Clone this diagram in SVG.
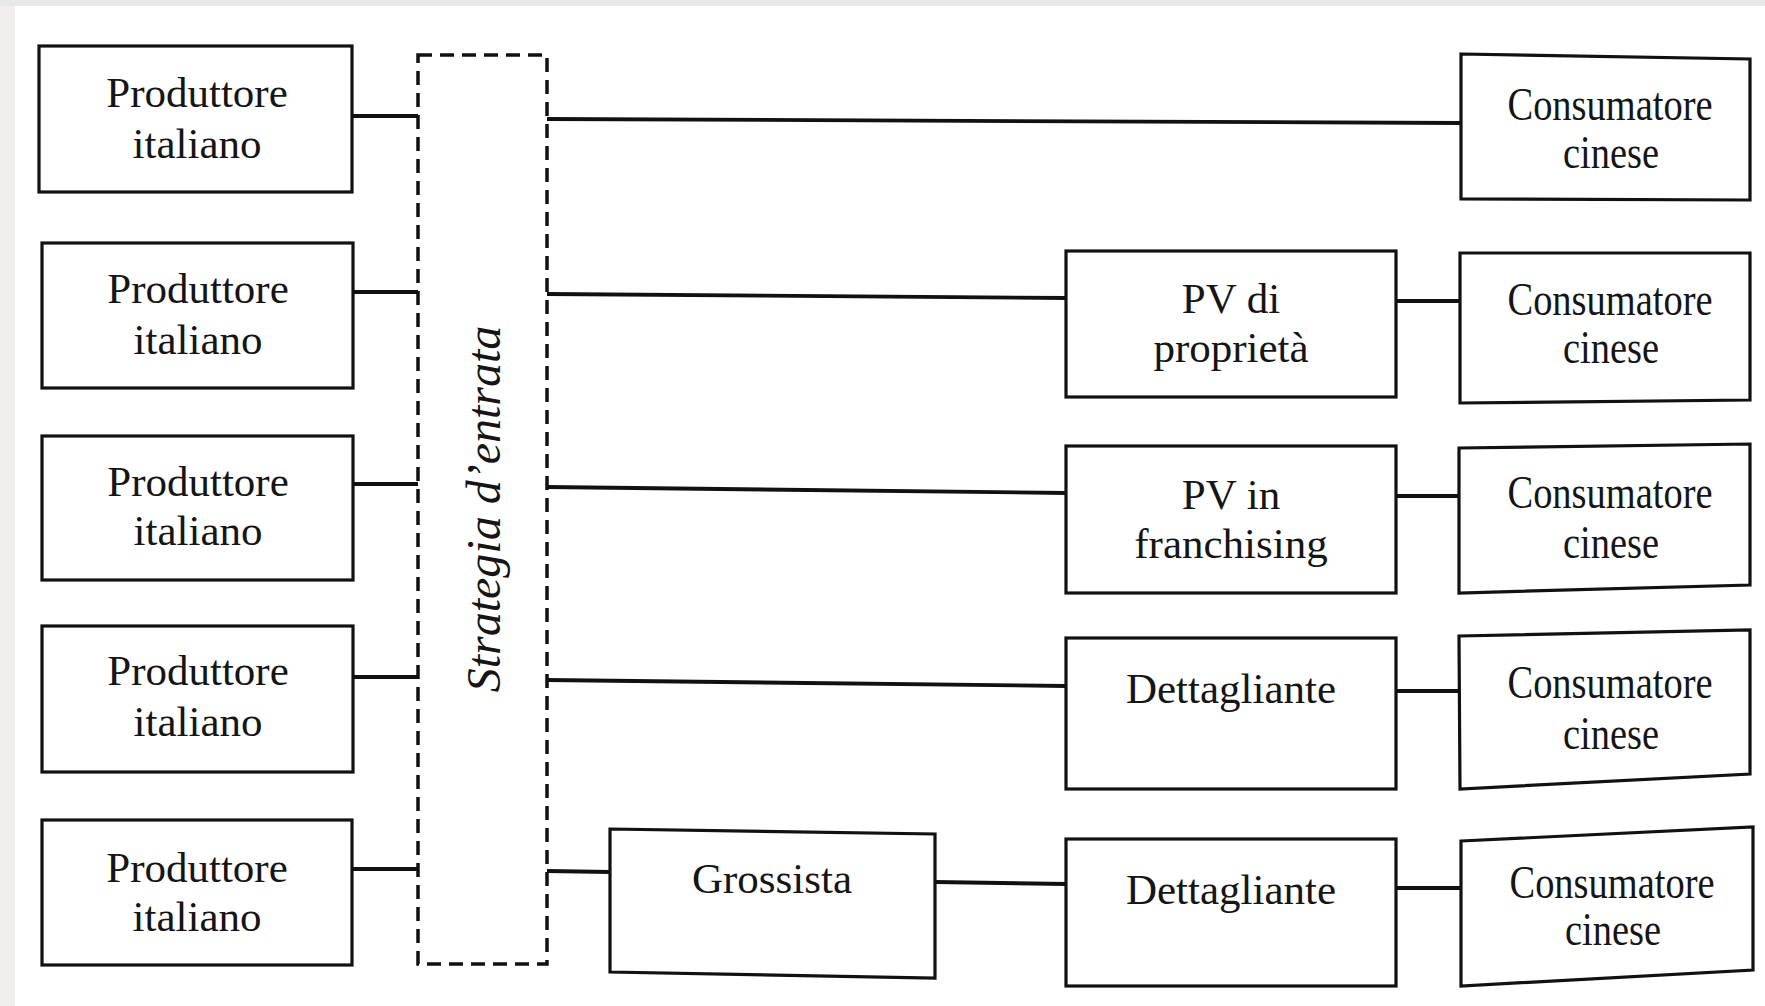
<svg xmlns="http://www.w3.org/2000/svg" width="1765" height="1006" viewBox="0 0 1765 1006">
  <style>
    .box { fill: #ffffff; stroke: #111111; stroke-width: 3.2; }
    .lbl { font-family: "Liberation Serif", "Times New Roman", serif; font-size: 43px; fill: #151515; text-anchor: middle; }
    .tall { font-size: 46px; }
    .conn line { stroke: #111111; stroke-width: 3.8; stroke-linecap: butt; }
    .frame { fill: none; stroke: #111111; stroke-width: 3.5; stroke-dasharray: 14 8; }
    .side { font-family: "Liberation Serif", "Times New Roman", serif; font-style: italic; font-size: 48px; fill: #151515; text-anchor: middle; }
  </style>

  <!-- page background -->
  <rect x="0" y="0" width="1765" height="1006" fill="#ffffff"/>
  <rect x="0" y="0" width="1765" height="6" fill="#e8e8e8"/>
  <rect x="0" y="6" width="15" height="1000" fill="#f3eeee"/>

  <!-- connectors -->
  <g id="connectors" class="conn">
    <!-- producers to entry strategy -->
    <line x1="352" y1="116" x2="418" y2="116"/>
    <line x1="353" y1="292" x2="418" y2="292"/>
    <line x1="353" y1="484" x2="418" y2="484"/>
    <line x1="353" y1="677" x2="418" y2="677"/>
    <line x1="352" y1="869" x2="418" y2="869"/>
    <!-- entry strategy to channels -->
    <line x1="547" y1="119" x2="1461" y2="123"/>
    <line x1="547" y1="294" x2="1066" y2="298"/>
    <line x1="547" y1="487" x2="1066" y2="493"/>
    <line x1="547" y1="680" x2="1066" y2="686"/>
    <line x1="547" y1="871" x2="610" y2="872"/>
    <!-- channels to consumers -->
    <line x1="1396" y1="301" x2="1460" y2="301"/>
    <line x1="1396" y1="496" x2="1459" y2="496"/>
    <line x1="1396" y1="691" x2="1459" y2="691"/>
    <line x1="935" y1="882" x2="1066" y2="884"/>
    <line x1="1396" y1="888" x2="1461" y2="888"/>
  </g>

  <!-- entry strategy frame -->
  <g id="strategia">
    <rect class="frame" x="418" y="55" width="129" height="909"/>
    <text class="side" transform="translate(500,509) rotate(-90)">Strategia d’entrata</text>
  </g>

  <!-- producers -->
  <g id="produttore-1">
    <rect class="box" x="39" y="46" width="313" height="146"/>
    <text class="lbl" x="197" y="107">Produttore</text>
    <text class="lbl" x="197" y="158">italiano</text>
  </g>
  <g id="produttore-2">
    <rect class="box" x="42" y="243" width="311" height="145"/>
    <text class="lbl" x="198" y="303">Produttore</text>
    <text class="lbl" x="198" y="354">italiano</text>
  </g>
  <g id="produttore-3">
    <rect class="box" x="42" y="436" width="311" height="144"/>
    <text class="lbl" x="198" y="496">Produttore</text>
    <text class="lbl" x="198" y="545">italiano</text>
  </g>
  <g id="produttore-4">
    <rect class="box" x="42" y="626" width="311" height="146"/>
    <text class="lbl" x="198" y="685">Produttore</text>
    <text class="lbl" x="198" y="736">italiano</text>
  </g>
  <g id="produttore-5">
    <rect class="box" x="42" y="820" width="310" height="145"/>
    <text class="lbl" x="197" y="882">Produttore</text>
    <text class="lbl" x="197" y="931">italiano</text>
  </g>

  <!-- intermediaries -->
  <g id="pv-proprieta">
    <rect class="box" x="1066" y="251" width="330" height="146"/>
    <text class="lbl" x="1231" y="313">PV di</text>
    <text class="lbl" x="1231" y="362">proprietà</text>
  </g>
  <g id="pv-franchising">
    <rect class="box" x="1066" y="446" width="330" height="147"/>
    <text class="lbl" x="1231" y="509">PV in</text>
    <text class="lbl" x="1231" y="558">franchising</text>
  </g>
  <g id="dettagliante-1">
    <rect class="box" x="1066" y="638" width="330" height="151"/>
    <text class="lbl" x="1231" y="703">Dettagliante</text>
  </g>
  <g id="grossista">
    <polygon class="box" points="610,829 935,834 935,978 610,972"/>
    <text class="lbl" x="772" y="893">Grossista</text>
  </g>
  <g id="dettagliante-2">
    <rect class="box" x="1066" y="839" width="330" height="147"/>
    <text class="lbl" x="1231" y="904">Dettagliante</text>
  </g>

  <!-- consumers -->
  <g id="consumatore-1">
    <polygon class="box" points="1461,54 1750,59 1750,200 1461,199"/>
    <text class="lbl tall" x="1610" y="120" textLength="205" lengthAdjust="spacingAndGlyphs">Consumatore</text>
    <text class="lbl tall" x="1611" y="168" textLength="96" lengthAdjust="spacingAndGlyphs">cinese</text>
  </g>
  <g id="consumatore-2">
    <polygon class="box" points="1460,253 1750,253 1750,400 1460,403"/>
    <text class="lbl tall" x="1610" y="315" textLength="205" lengthAdjust="spacingAndGlyphs">Consumatore</text>
    <text class="lbl tall" x="1611" y="363" textLength="96" lengthAdjust="spacingAndGlyphs">cinese</text>
  </g>
  <g id="consumatore-3">
    <polygon class="box" points="1459,448 1750,444 1750,585 1459,593"/>
    <text class="lbl tall" x="1610" y="508" textLength="205" lengthAdjust="spacingAndGlyphs">Consumatore</text>
    <text class="lbl tall" x="1611" y="558" textLength="96" lengthAdjust="spacingAndGlyphs">cinese</text>
  </g>
  <g id="consumatore-4">
    <polygon class="box" points="1459,636 1750,630 1750,774 1460,789"/>
    <text class="lbl tall" x="1610" y="698" textLength="205" lengthAdjust="spacingAndGlyphs">Consumatore</text>
    <text class="lbl tall" x="1611" y="749" textLength="96" lengthAdjust="spacingAndGlyphs">cinese</text>
  </g>
  <g id="consumatore-5">
    <polygon class="box" points="1461,841 1753,827 1753,970 1461,986"/>
    <text class="lbl tall" x="1612" y="898" textLength="205" lengthAdjust="spacingAndGlyphs">Consumatore</text>
    <text class="lbl tall" x="1613" y="945" textLength="96" lengthAdjust="spacingAndGlyphs">cinese</text>
  </g>
</svg>
